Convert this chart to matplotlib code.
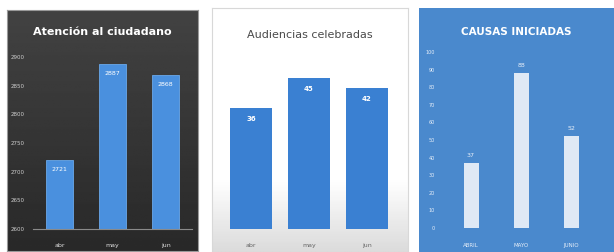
import matplotlib
matplotlib.use("Agg")
import matplotlib.pyplot as plt
import numpy as np

W, H = 614, 252

# data
meses = ["abr", "may", "jun"]
meses_mayus = ["ABRIL", "MAYO", "JUNIO"]
atencion = [2721, 2887, 2868]
atencion_ticks = [2600, 2650, 2700, 2750, 2800, 2850, 2900]
audiencias = [36, 45, 42]
causas = [37, 88, 52]
causas_ticks = list(range(0, 101, 10))


def fig_rect(x0, y0, x1, y1):
    # pixel box (top-left origin) -> figure fraction
    return [x0 / W, 1 - y1 / H, (x1 - x0) / W, (y1 - y0) / H]


fig = plt.figure(figsize=(W / 100, H / 100), dpi=100)
fig.patch.set_facecolor("white")

# --- panel 1: Atencion al ciudadano (dark) ---
bg1 = fig.add_axes(fig_rect(7, 10, 198, 251))
bg1.imshow(np.linspace(0.26, 0.16, 100).reshape(-1, 1), cmap="gray", vmin=0, vmax=1,
           aspect="auto", extent=[0, 1, 0, 1])
bg1.set_xticks([])
bg1.set_yticks([])
for s in bg1.spines.values():
    s.set_color("#9a9a9a")
    s.set_linewidth(0.8)
bg1.text(0.5, 0.91, "Atención al ciudadano", transform=bg1.transAxes, ha="center",
         va="center", color="white", fontsize=8, fontweight="bold")

ax1 = fig.add_axes(fig_rect(33, 57, 192, 229))
ax1.set_facecolor("none")
x = np.arange(len(meses))
ax1.bar(x, atencion, width=0.5, color="#4a90de", edgecolor="#6aa8ea", linewidth=0.6)
ax1.set_xlim(-0.5, 2.5)
ax1.set_ylim(atencion_ticks[0], atencion_ticks[-1])
ax1.set_yticks(atencion_ticks)
ax1.set_yticklabels([str(t) for t in atencion_ticks], color="#cfcfcf", fontsize=4)
ax1.set_xticks(x)
ax1.set_xticklabels(meses, color="#dddddd", fontsize=4.5)
ax1.tick_params(axis="y", length=0, pad=6)
ax1.tick_params(axis="x", length=0, pad=10)
for s in ["top", "right", "left"]:
    ax1.spines[s].set_visible(False)
ax1.spines["bottom"].set_color("#8a8a8a")
for xi, v in zip(x, atencion):
    ax1.text(xi, v - 12, str(v), ha="center", va="top", color="white", fontsize=4.5)

# --- panel 2: Audiencias celebradas (light) ---
bg2 = fig.add_axes(fig_rect(212, 8, 408, 252))
bg2.imshow(np.concatenate([np.ones(70), np.linspace(1.0, 0.86, 30)]).reshape(-1, 1),
           cmap="gray", vmin=0, vmax=1, aspect="auto", extent=[0, 1, 0, 1])
bg2.set_xticks([])
bg2.set_yticks([])
for s in bg2.spines.values():
    s.set_color("#d8d8d8")
    s.set_linewidth(0.8)
bg2.text(0.5, 0.89, "Audiencias celebradas", transform=bg2.transAxes, ha="center",
         va="center", color="#4a4a4a", fontsize=8)

ax2 = fig.add_axes(fig_rect(222, 61, 396, 229))
ax2.set_facecolor("none")
ax2.bar(x, audiencias, width=0.72, color="#3a80d2")
ax2.set_xlim(-0.5, 2.5)
ax2.set_ylim(0, 50)
ax2.set_yticks([])
ax2.set_xticks(x)
ax2.set_xticklabels(meses, color="#666666", fontsize=4.5)
ax2.tick_params(length=0, pad=10)
for s in ax2.spines.values():
    s.set_visible(False)
for xi, v in zip(x, audiencias):
    ax2.text(xi, v - 2.5, str(v), ha="center", va="top", color="white", fontsize=5,
             fontweight="bold")

# --- panel 3: Causas iniciadas (blue) ---
bg3 = fig.add_axes(fig_rect(419, 8, 614, 252))
bg3.set_facecolor("#4a89cd")
bg3.set_xticks([])
bg3.set_yticks([])
for s in bg3.spines.values():
    s.set_visible(False)
bg3.text(0.5, 0.9, "CAUSAS INICIADAS", transform=bg3.transAxes, ha="center",
         va="center", color="white", fontsize=7.5, fontweight="bold")

ax3 = fig.add_axes(fig_rect(446, 52, 596, 228))
ax3.set_facecolor("none")
ax3.bar(x, causas, width=0.3, color="#dfe9f5")
ax3.set_xlim(-0.5, 2.5)
ax3.set_ylim(0, 100)
ax3.set_yticks(causas_ticks)
ax3.set_yticklabels([str(t) for t in causas_ticks], color="#e6eef8", fontsize=3.5)
ax3.set_xticks(x)
ax3.set_xticklabels(meses_mayus, color="#e6eef8", fontsize=4)
ax3.tick_params(axis="y", length=0, pad=8)
ax3.tick_params(axis="x", length=0, pad=11)
for s in ax3.spines.values():
    s.set_visible(False)
for xi, v in zip(x, causas):
    ax3.text(xi, v + 3, str(v), ha="center", va="bottom", color="#e6eef8", fontsize=4.5)

fig.savefig("out.png", dpi=100)
